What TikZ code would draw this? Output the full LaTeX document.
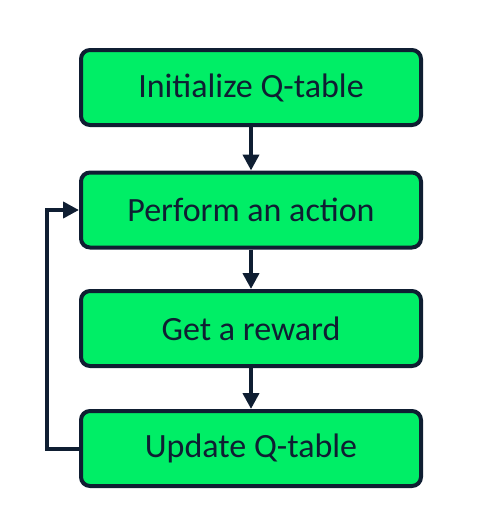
\documentclass[tikz,border=0pt]{standalone}
\usepackage{fontspec}
\setmainfont{Carlito}
\usetikzlibrary{arrows.meta}
\newlength{\du}
\setlength{\du}{1pt}
\definecolor{boxfill}{RGB}{0,238,102}
\definecolor{boxline}{RGB}{15,30,50}

\begin{document}
\begin{tikzpicture}[x=\du,y=-\du,
  stepbox/.style={draw=boxline,fill=boxfill,line width=4\du,rounded corners=9\du,
    minimum width=340\du,minimum height=75\du,inner sep=0pt,
    font=\fontsize{34}{40}\selectfont,text=boxline},
  flow/.style={draw=boxline,line width=4\du,-{Triangle[length=16pt,width=16pt]}}]
\useasboundingbox (0,0) rectangle (477,528);
% steps
\node[stepbox] (init) at (251,87.5) {\raisebox{-2pt}{Initialize Q-table}};
\node[stepbox] (act) at (251,210) {\raisebox{-2pt}{Perform an action}};
\node[stepbox] (rew) at (251,328.5) {\raisebox{-2pt}{Get a reward}};
\node[stepbox] (upd) at (251,448.5) {\raisebox{-2pt}{Update Q-table}};
% arrows
\draw[flow] (init) -- (act);
\draw[flow] (act) -- (rew);
\draw[flow] (rew) -- (upd);
\coordinate (loop) at (47,0);
\draw[flow] (upd.west) -- (upd.west -| loop) |- (act.west);
\end{tikzpicture}
\end{document}
